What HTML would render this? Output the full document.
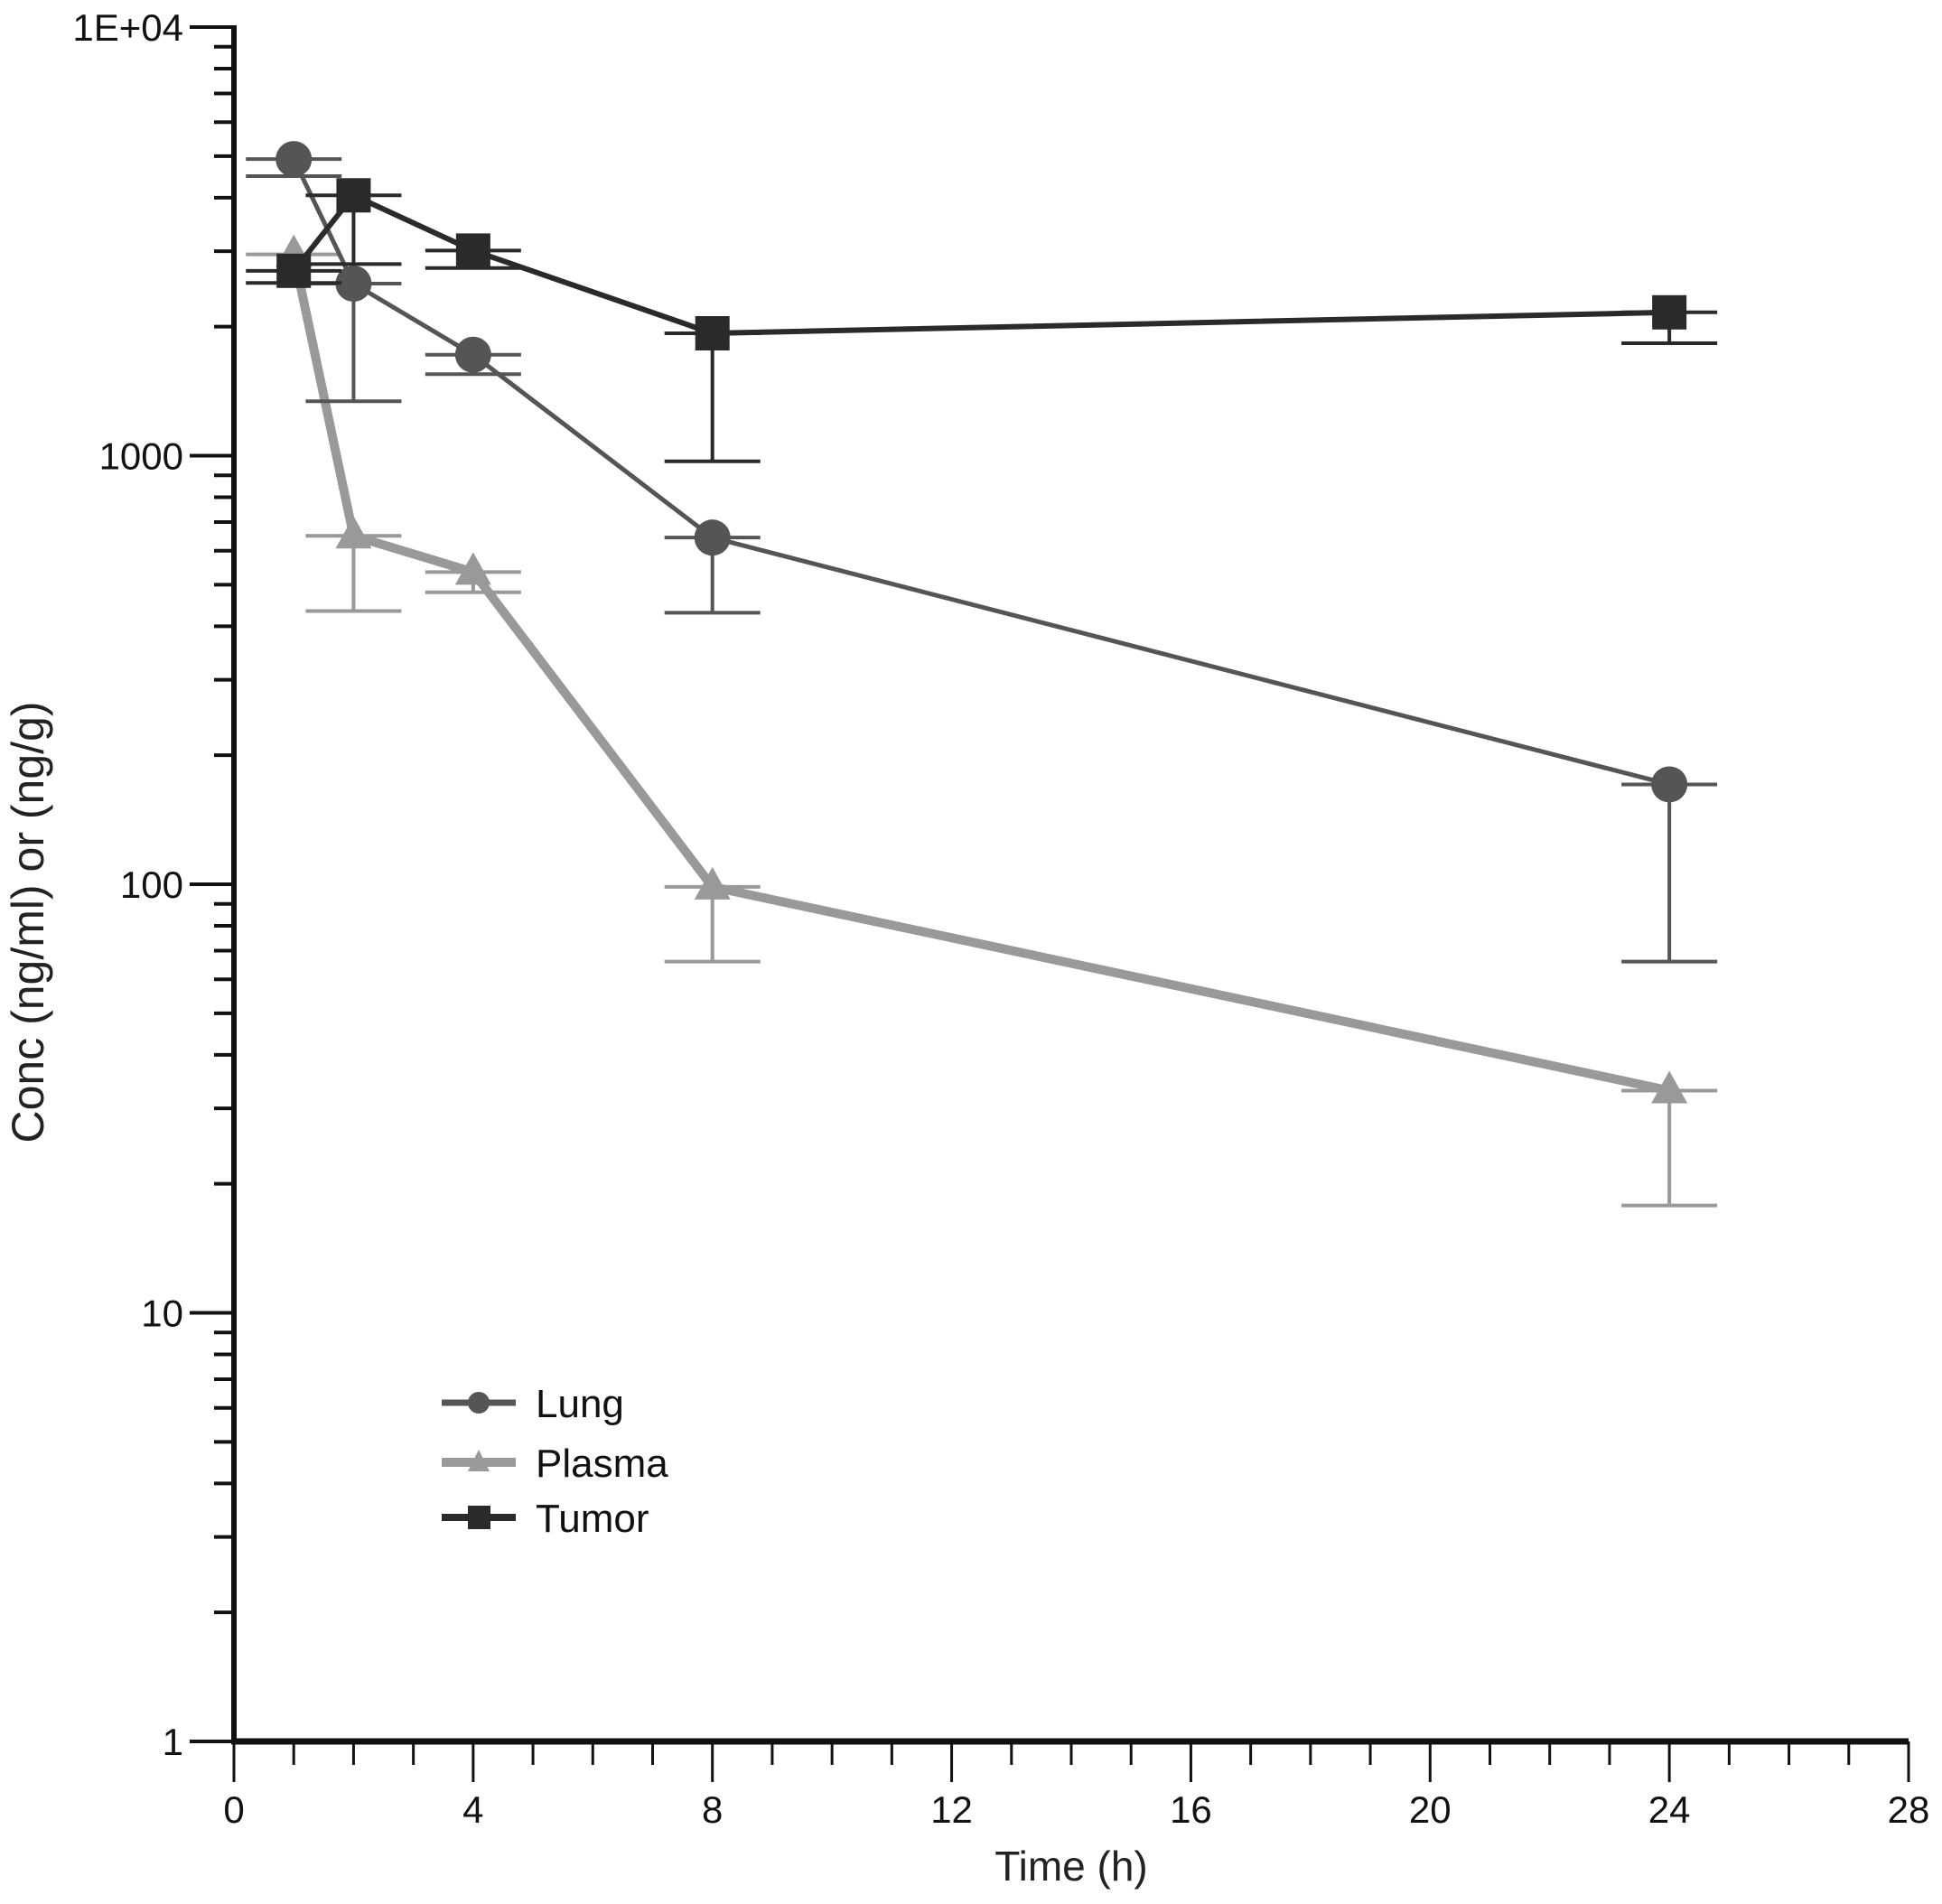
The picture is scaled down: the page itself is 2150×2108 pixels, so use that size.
<!DOCTYPE html>
<html><head><meta charset="utf-8"><style>
html,body{margin:0;padding:0;background:#fff;}
svg{display:block;font-family:"Liberation Sans",sans-serif;}
</style></head><body>
<svg id="chart" width="2150" height="2108" viewBox="0 0 2150 2108" xmlns="http://www.w3.org/2000/svg">
<g id="axes"></g>
<g id="series"></g>
<g id="legend"></g>
<text x="0" y="0" transform="translate(48,1021) rotate(-90)" text-anchor="middle" font-size="50" fill="#222">Conc (ng/ml) or (ng/g)</text>
<text x="1186" y="2082" text-anchor="middle" font-size="46" fill="#222">Time (h)</text>
</svg>
<script>
const times = [1, 2, 4, 8, 24];
const lungValues = [4920, 2520, 1720, 644, 171];
const lungLower = [4490, 1340, 1550, 430, 66];
const plasmaValues = [2950, 650, 535, 98.6, 33];
const plasmaLower = [2950, 434, 480, 66, 17.8];
const tumorValues = [2700, 4050, 3010, 1930, 2160];
const tumorLower = [2530, 2800, 2740, 970, 1830];
const xTicks = [0, 4, 8, 12, 16, 20, 24, 28];
const yTicks = [1, 10, 100, 1000, 10000];
const yTickLabels = ["1", "10", "100", "1000", "1E+04"];

const NS = "http://www.w3.org/2000/svg";
const X0 = 259, X1 = 2113, Y0 = 1928, Y1 = 30;
function xs(t){ return X0 + (t/28)*(X1-X0); }
function ys(v){ return Y0 - (Math.log10(v)/4)*(Y0-Y1); }
function mk(tag, attrs, parent){ const e=document.createElementNS(NS,tag); for(const k in attrs) e.setAttribute(k,attrs[k]); parent.appendChild(e); return e; }

const axes = document.getElementById('axes');
for (let d=0; d<4; d++){
  for (let m=2; m<=9; m++){
    const y = ys(m*Math.pow(10,d));
    const t = mk('line',{x1:X0-22,x2:X0,y1:y,y2:y,stroke:'#111','stroke-width':4},axes);
    
    
  }
}
yTicks.forEach((v,i)=>{
  const y = ys(v);
  const t = mk('line',{x1:X0-49,x2:X0,y1:y,y2:y,stroke:'#111','stroke-width':4},axes);
  
  
  const l = mk('text',{x:X0-56,y:y+15,'text-anchor':'end','font-size':42,fill:'#111'},axes);
  l.textContent = yTickLabels[i];
  
  
});
for (let h=1; h<28; h++){
  if (h%4===0) continue;
  const x = xs(h);
  const t = mk('line',{x1:x,x2:x,y1:Y0,y2:Y0+26,stroke:'#111','stroke-width':3},axes);
  
  
}
xTicks.forEach(v=>{
  const x = xs(v);
  const t = mk('line',{x1:x,x2:x,y1:Y0,y2:Y0+45,stroke:'#111','stroke-width':3},axes);
  
  
  const l = mk('text',{x:x,y:2018,'text-anchor':'middle','font-size':42,fill:'#111'},axes);
  l.textContent = String(v);
  
  
});
const ya = mk('line',{x1:X0,x2:X0,y1:Y1-2,y2:Y0+3,stroke:'#111','stroke-width':6},axes);


const xa = mk('line',{x1:X0-3,x2:X1,y1:Y0,y2:Y0,stroke:'#111','stroke-width':7},axes);



const seriesG = document.getElementById('series');
function marker(kind, x, y, color, g){
  let e;
  if (kind==='circle') e = mk('circle',{cx:x,cy:y,r:20,fill:color},g);
  else if (kind==='square') e = mk('rect',{x:x-19,y:y-19,width:38,height:38,fill:color},g);
  else e = mk('polygon',{points:`${x},${y-22} ${x-20},${y+14} ${x+20},${y+14}`,fill:color},g);
  return e;
}
function drawSeries(name, vals, lower, color, width, kind){
  const g = mk('g',{},seriesG);
  
  
  vals.forEach((v,i)=>{
    const x = xs(times[i]);
    const eb = mk('path',{d:`M${x},${ys(v)} V${ys(lower[i])} M${x-53},${ys(lower[i])} H${x+53} M${x-53},${ys(v)} H${x+53}`,stroke:color,'stroke-width':4,fill:'none'},g);
    
    
  });
  const pts = vals.map((v,i)=>xs(times[i])+','+ys(v)).join(' ');
  const ln = mk('polyline',{points:pts,stroke:color,'stroke-width':width,fill:'none','stroke-linejoin':'round'},g);
  
  
  vals.forEach((v,i)=>{
    const m = marker(kind, xs(times[i]), ys(v), color, g);
    
    
  });
}
drawSeries('plasma', plasmaValues, plasmaLower, '#999', 10, 'triangle');
drawSeries('lung', lungValues, lungLower, '#555', 5, 'circle');
drawSeries('tumor', tumorValues, tumorLower, '#2a2a2a', 6, 'square');

const legend = document.getElementById('legend');
const legItems = [['Lung','#555',7,'circle',1553],['Plasma','#999',10,'triangle',1619],['Tumor','#2a2a2a',8,'square',1680]];
legItems.forEach(it=>{
  const g = mk('g',{},legend);
  
  
  mk('line',{x1:489,x2:571,y1:it[4],y2:it[4],stroke:it[1],'stroke-width':it[2]},g);
  const k = it[3]==='circle' ? mk('circle',{cx:530,cy:it[4],r:12,fill:it[1]},g)
    : it[3]==='square' ? mk('rect',{x:518,y:it[4]-13,width:25,height:26,fill:it[1]},g)
    : mk('polygon',{points:`530,${it[4]-14} 518,${it[4]+10} 542,${it[4]+10}`,fill:it[1]},g);
  const t = mk('text',{x:593,y:it[4]+16,'font-size':44,fill:'#111'},g);
  t.textContent = it[0];
  
  
});
</script>
</body></html>
